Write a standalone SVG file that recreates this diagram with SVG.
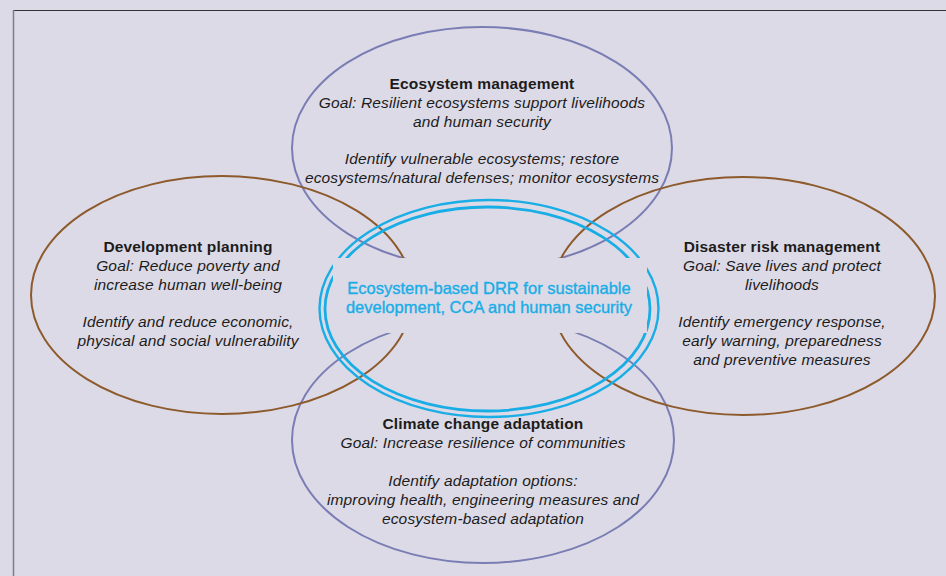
<svg xmlns="http://www.w3.org/2000/svg" width="946" height="576" viewBox="0 0 946 576">
<style>
.bg{fill:#dcdae6}
.eb{fill:none;stroke:#7a7db4;stroke-width:2}
.er{fill:none;stroke:#8d5a2c;stroke-width:2}
.ec{fill:none;stroke:#19ade6;stroke-width:2.4}
.ec2{fill:none;stroke:#19ade6;stroke-width:2.8}
text{font-family:"Liberation Sans",Arial,sans-serif;font-size:15.5px;fill:#1c1c1c;text-anchor:middle;letter-spacing:0.15px}
.t{font-weight:bold}
.i{font-style:italic}
.c{fill:#19ade6;stroke:#19ade6;stroke-width:0.35;font-size:16.5px;letter-spacing:0}
</style>
<rect class="bg" x="0" y="0" width="946" height="576"/>
<line x1="13" y1="10.5" x2="946" y2="10.5" stroke="#333" stroke-width="1.2"/>
<line x1="13.5" y1="10" x2="13.5" y2="576" stroke="#7d7d85" stroke-width="1.5"/>
<g id="shapes">
<ellipse class="eb" cx="482" cy="148" rx="190" ry="121"/>
<ellipse class="eb" cx="483" cy="440" rx="191" ry="123"/>
<ellipse class="er" cx="222" cy="295" rx="191" ry="119"/>
<ellipse class="er" cx="743" cy="296" rx="192" ry="119"/>
<ellipse class="ec" cx="489" cy="308.5" rx="169.5" ry="108.5"/>
<ellipse class="ec2" cx="487.5" cy="309" rx="162.5" ry="102"/>
<rect class="bg" x="333" y="258" width="314" height="75"/>
</g>
<g id="ecosystem-management">
<text class="t" x="482" y="89">Ecosystem management</text>
<text class="i" x="482" y="108">Goal: Resilient ecosystems support livelihoods</text>
<text class="i" x="482" y="127">and human security</text>
<text class="i" x="482" y="164">Identify vulnerable ecosystems; restore</text>
<text class="i" x="482" y="183">ecosystems/natural defenses; monitor ecosystems</text>
</g>
<g id="development-planning">
<text class="t" x="188" y="252">Development planning</text>
<text class="i" x="188" y="271">Goal: Reduce poverty and</text>
<text class="i" x="188" y="290">increase human well-being</text>
<text class="i" x="188" y="327">Identify and reduce economic,</text>
<text class="i" x="188" y="346">physical and social vulnerability</text>
</g>
<g id="disaster-risk-management">
<text class="t" x="782" y="252">Disaster risk management</text>
<text class="i" x="782" y="271">Goal: Save lives and protect</text>
<text class="i" x="782" y="290">livelihoods</text>
<text class="i" x="782" y="327">Identify emergency response,</text>
<text class="i" x="782" y="346">early warning, preparedness</text>
<text class="i" x="782" y="365">and preventive measures</text>
</g>
<g id="climate-change-adaptation">
<text class="t" x="483" y="429">Climate change adaptation</text>
<text class="i" x="483" y="448">Goal: Increase resilience of communities</text>
<text class="i" x="483" y="486">Identify adaptation options:</text>
<text class="i" x="483" y="505">improving health, engineering measures and</text>
<text class="i" x="483" y="524">ecosystem-based adaptation</text>
</g>
<g id="eco-drr">
<text class="c" x="489" y="294">Ecosystem-based DRR for sustainable</text>
<text class="c" x="489" y="313">development, CCA and human security</text>
</g>
</svg>
